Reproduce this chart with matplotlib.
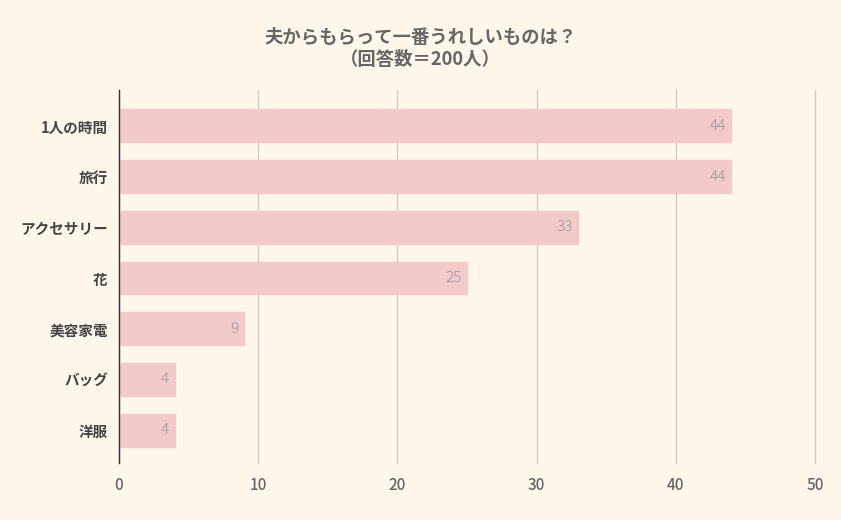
import numpy as np
import matplotlib.pyplot as plt

plt.rcParams['font.family'] = ['Noto Sans CJK JP', 'DejaVu Sans']

categories = ['1人の時間', '旅行', 'アクセサリー', '花', '美容家電', 'バッグ', '洋服']
values = [44, 44, 33, 25, 9, 4, 4]
xticks = [0, 10, 20, 30, 40, 50]

bg = '#fff7ec'
fig = plt.figure(figsize=(8.41, 5.2), dpi=100, facecolor=bg)
ax = fig.add_axes([0.1415, 0.1096, 0.8275, 0.7174], facecolor=bg)

y = np.arange(len(categories))
ax.barh(y, values, height=0.65, color='#f2cacb', edgecolor='#f2cacb',
        linewidth=1, joinstyle='round', zorder=2)
for yi, v in zip(y, values):
    ax.text(v - 0.4, yi, str(v), ha='right', va='center', fontsize=11,
            color='#9a9a9a', fontweight='light', zorder=3)

ax.set_xlim(0, 50)
ax.set_ylim(6.65, -0.71)
ax.set_xticks(xticks)
ax.set_yticks(y)
ax.set_yticklabels(categories, fontsize=10.5, fontweight='bold', color='#444444')
ax.tick_params(axis='x', length=0, labelsize=11, labelcolor='#666666', pad=10)
ax.tick_params(axis='y', length=0, pad=8)
for lab in ax.get_xticklabels():
    lab.set_fontweight('medium')
ax.grid(axis='x', color='#cfc7bd', linewidth=0.9, zorder=0)
for gl in ax.get_xgridlines():
    gl.set_clip_on(False)
for s in ['top', 'right', 'bottom']:
    ax.spines[s].set_visible(False)
ax.spines['left'].set_color('#333333')
ax.spines['left'].set_linewidth(1)
ax.spines['left'].set_zorder(4)

fig.text(0.5, 0.906, '夫からもらって一番うれしいものは？\n（回答数＝200人）',
         ha='center', va='center', fontsize=13.2, fontweight='bold',
         color='#666666', linespacing=1.2)

fig.savefig('out.png', dpi=100, facecolor=bg)
